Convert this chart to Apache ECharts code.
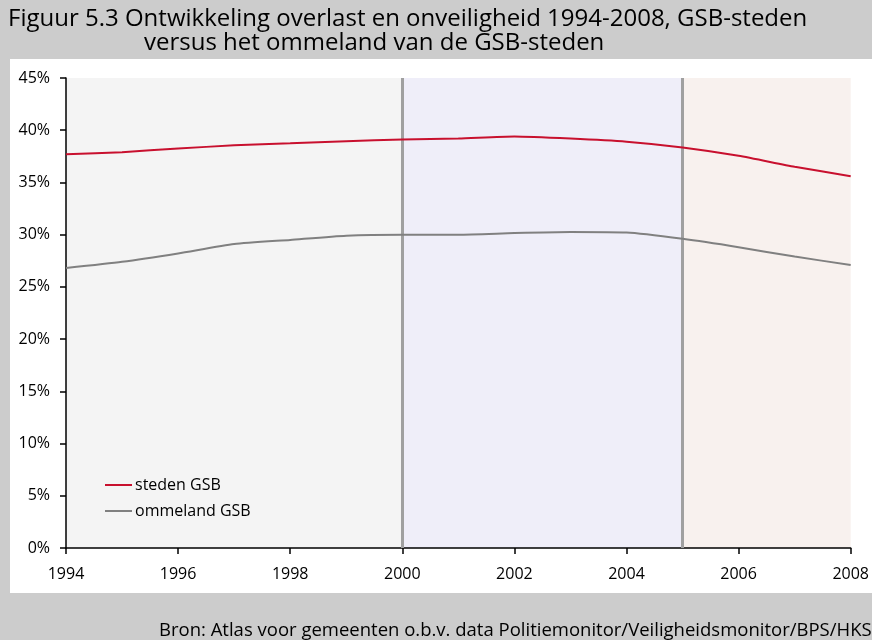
<!DOCTYPE html>
<html><head><meta charset="utf-8">
<script src="https://cdn.jsdelivr.net/npm/echarts@6/dist/echarts.min.js"></script>
<style>html,body{margin:0;padding:0;background:#cccccc;}#c{width:872px;height:640px;}</style>
</head><body><div id="c"></div>
<script>
const years = [1994,1995,1996,1997,1998,1999,2000,2001,2002,2003,2004,2005,2006,2007,2008];
const stedenGSB = [37.7,37.9,38.25,38.55,38.75,38.95,39.1,39.2,39.4,39.2,38.9,38.35,37.55,36.5,35.6];
const ommelandGSB = [26.8,27.4,28.2,29.1,29.5,29.9,30.0,30.0,30.15,30.25,30.2,29.6,28.8,27.9,27.1];
const periods = [[1994,2000,'#f4f4f4'],[2000,2005,'#efeef9'],[2005,2008,'#f8f1ee']];
const dividers = [2000,2005];
const titleLines = ['Figuur 5.3 Ontwikkeling overlast en onveiligheid 1994-2008, GSB-steden','versus het ommeland van de GSB-steden'];
const sourceText = 'Bron: Atlas voor gemeenten o.b.v. data Politiemonitor/Veiligheidsmonitor/BPS/HKS';

const font = 'Open Sans';
const chart = echarts.init(document.getElementById('c'));
chart.setOption({
  backgroundColor: '#cccccc',
  animation: false,
  textStyle: {fontFamily: font},
  graphic: [
    {type:'rect', left:10, top:59, shape:{width:862, height:534}, style:{fill:'#ffffff'}, z:-10},
    {type:'text', left:8, top:7, style:{text:titleLines[0], font:'24px "'+font+'"', fill:'#000'}},
    {type:'text', left:144, top:31, style:{text:titleLines[1], font:'24px "'+font+'"', fill:'#000'}},
    {type:'text', left:159, top:621, style:{text:sourceText, font:'18.5px "'+font+'"', fill:'#000'}}
  ],
  grid: {left:66, right:17, top:78, bottom:92},
  legend: {
    orient:'vertical', left:100, top:472, itemWidth:27, itemHeight:2, itemGap:10, icon:'rect',
    textStyle:{fontSize:16, color:'#000', fontFamily:font, padding:[0,0,0,-2]},
    data:['steden GSB','ommeland GSB']
  },
  xAxis: {
    type:'value', min:1994, max:2008, interval:2,
    axisLine:{lineStyle:{color:'#000', width:1.5}},
    axisTick:{show:true, length:6, lineStyle:{color:'#000', width:1.5}},
    axisLabel:{color:'#000', fontSize:16, margin:18, formatter: v => String(v)},
    splitLine:{show:false}
  },
  yAxis: {
    type:'value', min:0, max:45, interval:5,
    axisLine:{show:true, lineStyle:{color:'#000', width:1.5}},
    axisTick:{show:true, length:6, lineStyle:{color:'#000', width:1.5}},
    axisLabel:{color:'#000', fontSize:16, margin:16, formatter: v => v + '%'},
    splitLine:{show:false}
  },
  series: [
    {
      name:'steden GSB', type:'line', symbol:'none', smooth:0.2,
      data: years.map((y,i)=>[y, stedenGSB[i]]),
      lineStyle:{color:'#c8102e', width:2}, itemStyle:{color:'#c8102e'}, z:5,
      markArea:{silent:true, z:-1, data: periods.map(p=>[{xAxis:p[0], itemStyle:{color:p[2]}},{xAxis:p[1]}])},
      markLine:{silent:true, symbol:'none', label:{show:false},
        lineStyle:{color:'#a0a0a0', width:3, type:'solid'},
        data: dividers.map(d=>({xAxis:d}))}
    },
    {
      name:'ommeland GSB', type:'line', symbol:'none', smooth:0.2,
      data: years.map((y,i)=>[y, ommelandGSB[i]]),
      lineStyle:{color:'#808080', width:2}, itemStyle:{color:'#808080'}, z:5
    }
  ]
});
</script></body></html>
